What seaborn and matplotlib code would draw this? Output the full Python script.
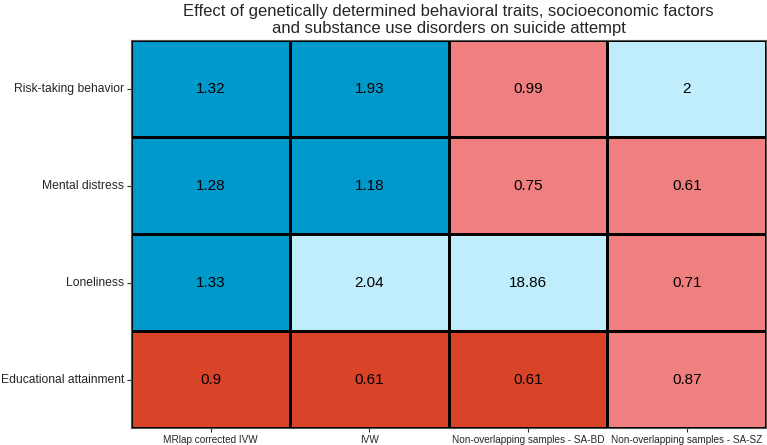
import numpy as np
import seaborn as sns
import matplotlib.pyplot as plt
from matplotlib.colors import ListedColormap

traits = ["Risk-taking behavior", "Mental distress", "Loneliness", "Educational attainment"]
methods = ["MRlap corrected IVW", "IVW", "Non-overlapping samples - SA-BD",
           "Non-overlapping samples - SA-SZ"]
odds_ratios = [
    [1.32, 1.93, 0.99, 2],
    [1.28, 1.18, 0.75, 0.61],
    [1.33, 2.04, 18.86, 0.71],
    [0.9, 0.61, 0.61, 0.87],
]
# 0 = significant risk, 1 = nominal risk, 2 = nominal protective, 3 = significant protective
effect_class = [
    [0, 0, 2, 1],
    [0, 0, 2, 2],
    [0, 1, 1, 2],
    [3, 3, 3, 2],
]
palette = ["#0099CC", "#BFEDFC", "#F08080", "#D94429"]

sns.set_style("white")
plt.rcParams['font.family'] = ['Liberation Sans', 'DejaVu Sans']

labels = np.array([[f"{v:g}" for v in row] for row in odds_ratios])

fig = plt.figure(figsize=(7.67, 4.45), dpi=100)
ax = fig.add_axes([0.171, 0.038, 0.828, 0.872])
sns.heatmap(np.array(effect_class), ax=ax, cmap=ListedColormap(palette), vmin=-0.5, vmax=3.5,
            annot=labels, fmt="", cbar=False, linewidths=1.8, linecolor="black",
            annot_kws={"fontsize": 11, "color": "black"},
            xticklabels=methods, yticklabels=traits)

ax.tick_params(axis="both", length=3, width=0.8, color="#333333", pad=2,
               left=True, bottom=True)
ax.tick_params(axis="y", labelsize=8.7)
ax.tick_params(axis="x", labelsize=7.2)
plt.setp(ax.get_yticklabels(), rotation=0)
plt.setp(ax.get_xticklabels(), rotation=0)
for s in ax.spines.values():
    s.set_visible(True)
    s.set_color("#555555")
    s.set_linewidth(0.8)

ax.set_title("Effect of genetically determined behavioral traits, socioeconomic factors\n"
             "and substance use disorders on suicide attempt", fontsize=12, pad=5)

plt.savefig("out.png", dpi=100)
